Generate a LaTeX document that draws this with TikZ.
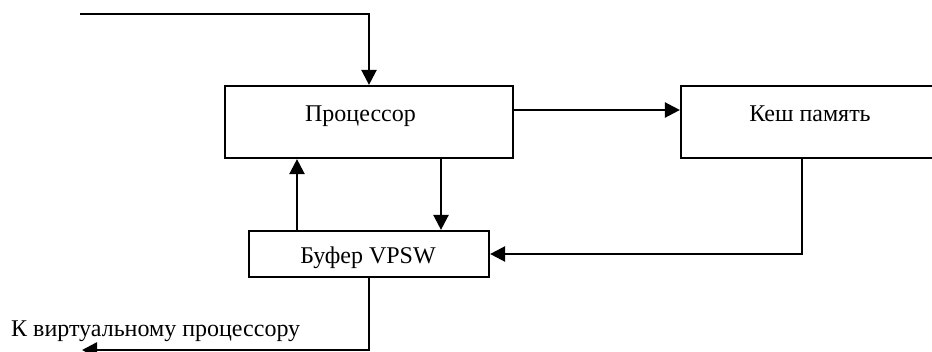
\documentclass[tikz,border=0pt]{standalone}
\usepackage{fontspec}
\setmainfont{Liberation Serif}
\usetikzlibrary{arrows.meta}
\tikzset{
  box/.style={draw, line width=2.2pt, rectangle, inner sep=0pt},
  lbl/.style={inner sep=0pt, anchor=base, font=\fontsize{24}{28}\selectfont},
  arr/.style={line width=2.4pt, -{Triangle[length=15pt,width=15pt]}}
}
\begin{document}
\begin{tikzpicture}[x=1pt,y=-1pt]
  \useasboundingbox (0,0) rectangle (932,351);
  % blocks
  \node[box, minimum width=288pt, minimum height=72pt] (proc) at (369,122) {};
  \node[box, minimum width=259pt, minimum height=72pt] (cache) at (810.5,122) {};
  \node[box, minimum width=240pt, minimum height=46pt] (buf) at (369,254) {};
  % block captions
  \node[lbl] (proclbl) at (360.5,121) {Процессор};
  \node[lbl] (cachelbl) at (810,121) {Кеш память};
  \node[lbl] (buflbl) at (368,263) {Буфер VPSW};
  \node[lbl, anchor=base west] (outlbl) at (11,336) {К виртуальному процессору};
  % free ends
  \coordinate (in) at (80,14);
  \coordinate (out) at (82,350);
  % connectors
  \draw[arr] (in) -| (proc.north);
  \draw[arr] ([yshift=12pt]proc.east) -- ([yshift=12pt]cache.west);
  \draw[arr] ([xshift=-72pt]buf.north) -- ([xshift=-72pt]buf.north |- proc.south);
  \draw[arr] ([xshift=72pt]proc.south) -- ([xshift=72pt]proc.south |- buf.north);
  \draw[arr] ([xshift=-8.5pt]cache.south) |- (buf.east);
  \draw[arr] (buf.south) |- (out);
\end{tikzpicture}
\end{document}
